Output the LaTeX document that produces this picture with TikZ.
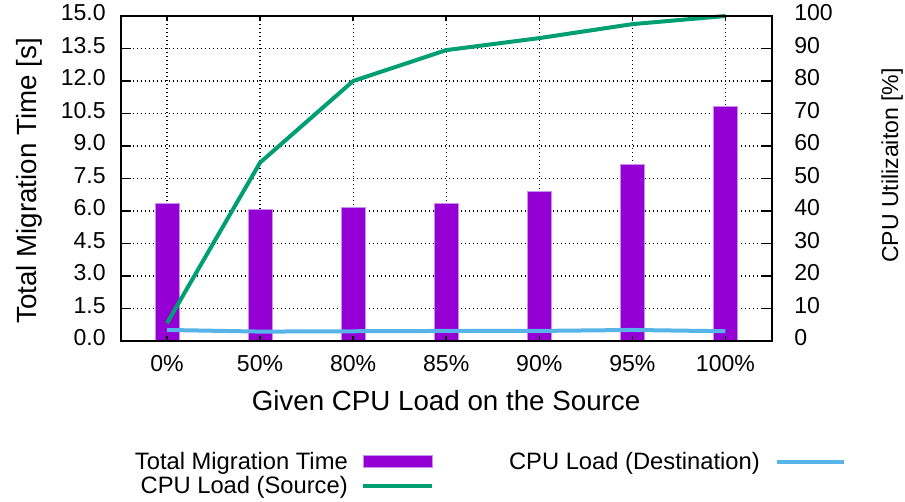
\documentclass[tikz,border=0pt]{standalone}
\usepackage{fontspec}
\setmainfont{Liberation Sans}
\definecolor{barviolet}{HTML}{9400D3}
\definecolor{baredge}{HTML}{C890F0}
\definecolor{srcgreen}{HTML}{009E73}
\definecolor{dstblue}{HTML}{56B4E9}
\begin{document}
\begin{tikzpicture}[x=0.75pt,y=-0.75pt,
  gridline/.style={black, line width=0.9pt, dash pattern=on 1.1pt off 1.9pt},
  frame/.style={black, line width=1.5pt},
  tickmark/.style={black, line width=1.1pt},
  bar/.style={fill=barviolet, draw=baredge, line width=0.5pt},
  srcline/.style={srcgreen, line width=3pt, line join=round},
  dstline/.style={dstblue, line width=3pt, line join=round},
  ticklab/.style={font=\fontsize{17.3}{20}\selectfont, inner sep=0pt, text height=0.716em, text depth=0pt},
  legendlab/.style={font=\fontsize{17.8}{20}\selectfont, inner sep=0pt, anchor=base east},
  axislab/.style={font=\fontsize{20.8}{24}\selectfont, inner sep=0pt, anchor=base}
]
\useasboundingbox (0,0) rectangle (905,501);
\fill[white] (0,0) rectangle (905,501);

% grid
\foreach \k in {1,...,9}
  \draw[gridline] (120.5,{341-32.5*\k}) -- (772,{341-32.5*\k});
\foreach \i in {0,...,6}
  \draw[gridline] ({167+93.07*\i},16) -- ({167+93.07*\i},341);

% bars
\foreach \i/\v in {0/6.35,1/6.08,2/6.18,3/6.34,4/6.89,5/8.14,6/10.85}
  \filldraw[bar] ({167+93.07*\i-12},341) rectangle ({167+93.07*\i+12},{341-21.667*\v});

% CPU load (source)
\draw[srcline] (167,{341-3.25*5.5}) -- (260.07,{341-3.25*54.9}) -- (353.14,{341-3.25*80})
  -- (446.21,{341-3.25*89.5}) -- (539.28,{341-3.25*93.2}) -- (632.35,{341-3.25*97.5})
  -- (725.42,{341-3.25*100});

% CPU load (destination)
\draw[dstline] (167,{341-3.25*3.4}) -- (260.07,{341-3.25*2.9}) -- (353.14,{341-3.25*3.0})
  -- (446.21,{341-3.25*3.1}) -- (539.28,{341-3.25*3.1}) -- (632.35,{341-3.25*3.4})
  -- (725.42,{341-3.25*3.0});

% ticks on y axes
\foreach \k in {0,...,10} {
  \draw[tickmark] (120.5,{341-32.5*\k}) -- ++(10,0);
  \draw[tickmark] (772,{341-32.5*\k}) -- ++(-10,0);
}
% ticks on x axes
\foreach \i in {0,...,6} {
  \draw[tickmark] ({167+93.07*\i},341) -- ++(0,-5);
  \draw[tickmark] ({167+93.07*\i},16) -- ++(0,5);
}

% frame
\draw[frame] (120.5,16) rectangle (772,341);

% left tick labels
\foreach \k/\lab in {0/0.0,1/1.5,2/3.0,3/4.5,4/6.0,5/7.5,6/9.0,7/10.5,8/12.0,9/13.5,10/15.0}
  \node[ticklab, anchor=east] (yl\k) at (106,{341-32.5*\k}) {\lab};
% right tick labels
\foreach \k/\lab in {0/0,1/10,2/20,3/30,4/40,5/50,6/60,7/70,8/80,9/90,10/100}
  \node[ticklab, anchor=west] (yr\k) at (794,{341-32.5*\k}) {\lab};
% x tick labels
\foreach \i/\lab in {0/0,1/50,2/80,3/85,4/90,5/95,6/100}
  \node[ticklab] (xl\i) at ({167+93.07*\i},366.7) {\lab\%};

% axis labels
\node[axislab] (xlabel) at (446,410) {Given CPU Load on the Source};
\node[axislab, rotate=90] (ylabel) at (36,181) {Total Migration Time [s]};
\node[axislab, rotate=90, font=\fontsize{17.3}{20}\selectfont] (y2label) at (898,165.5) {CPU Utilizaiton [\%]};

% legend
\node[legendlab] (lg1) at (348,469.5) {Total Migration Time};
\filldraw[bar] (363.3,455.5) rectangle (432.3,467.7);
\node[legendlab] (lg2) at (348,493.3) {CPU Load (Source)};
\coordinate (lg2a) at (363.3,485.7);
\coordinate (lg2b) at (432.3,485.7);
\draw[srcline] (lg2a) -- (lg2b);
\node[legendlab] (lg3) at (760,469.5) {CPU Load (Destination)};
\coordinate (lg3a) at (776.7,462);
\coordinate (lg3b) at (844.3,462);
\draw[dstline] (lg3a) -- (lg3b);
\end{tikzpicture}
\end{document}
